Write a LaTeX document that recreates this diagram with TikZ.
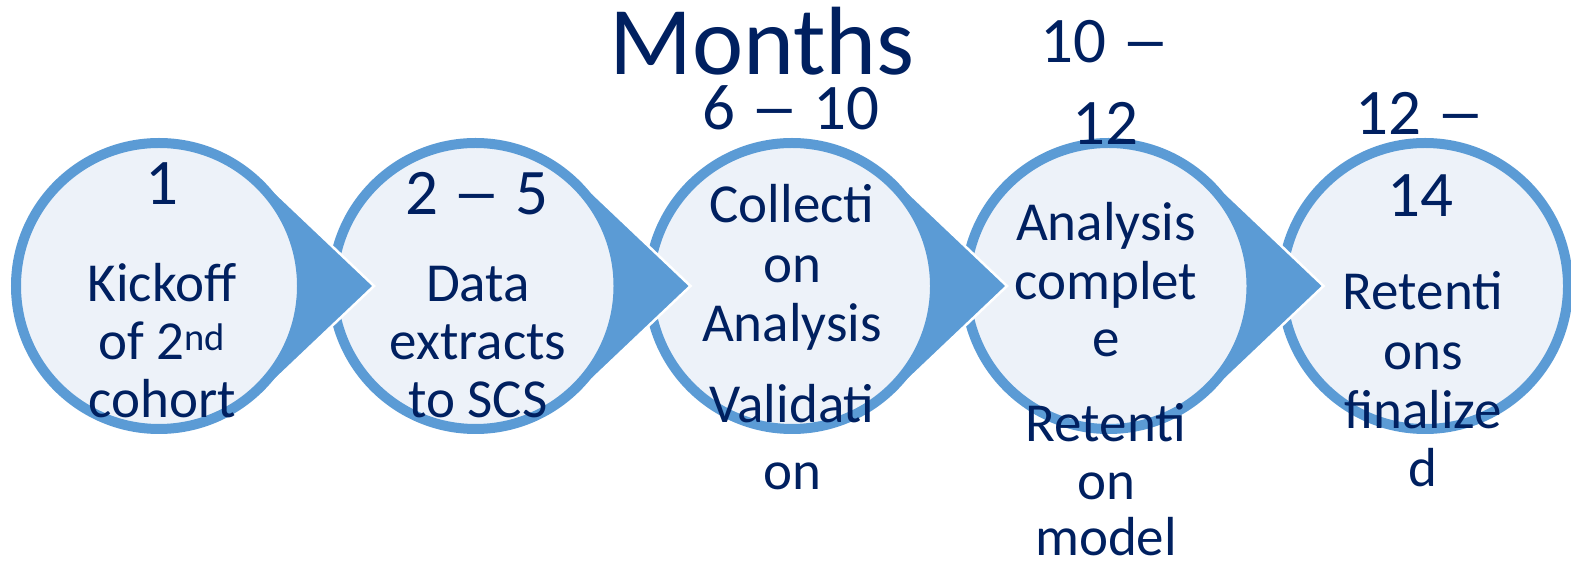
\documentclass[tikz,border=0pt]{standalone}
\usepackage{fontspec}
\setmainfont{Carlito}
\usetikzlibrary{calc}
\definecolor{navy}{HTML}{002060}
\definecolor{accent}{HTML}{5B9BD5}
\definecolor{lightfill}{HTML}{EDF2F9}
\newcommand{\wdash}{\scalebox{1.5}[1]{–}}
\begin{document}
\begin{tikzpicture}[x=1pt,y=1pt,
 body/.style={anchor=base, text=navy, font=\fontsize{55}{59}\selectfont, inner sep=0pt},
 head/.style={anchor=base, text=navy, font=\fontsize{65}{69}\selectfont, inner sep=0pt},
 title/.style={anchor=base, text=navy, font=\fontsize{97}{100}\selectfont, inner sep=0pt},
 arrowpart/.style={fill=accent, draw=white, line width=2.5pt},
 disc/.style={circle, fill=lightfill, draw=accent, line width=10pt, minimum size=286pt, inner sep=0pt}]
\useasboundingbox (0,0) rectangle (1571,562);
% shapes, drawn right to left so each arrow lies over the next circle
\coordinate (c5) at (1425,276);
\node[disc] (n5) at (c5) {};
\foreach \i/\cx in {4/1108.5, 3/792, 2/475.5, 1/159} {
  \coordinate (c\i) at (\cx,276);
  \coordinate (tip\i) at (\cx+215,276);
  \fill[arrowpart] ($(c\i)+(46.5:148)$) -- (tip\i) -- ($(c\i)+(-46.5:148)$)
     arc[start angle=-46.5, end angle=-313.5, radius=148] -- cycle;
  \node[disc] (n\i) at (c\i) {};
}
% title
\node[title] (months) at (762,487) {Months};
% circle 1
\node[head] (h1) at (162,357) {1};
\node[body] (t1a) at (162,260) {Kickoff};
\node[body] (t1b) at (162,202) {of 2\textsuperscript{nd}};
\node[body] (t1c) at (162,144) {cohort};
% circle 2
\node[head] (h2) at (477,347) {2 \wdash{} 5};
\node[body] (t2a) at (478,260) {Data};
\node[body] (t2b) at (478,202) {extracts};
\node[body] (t2c) at (478,144) {to SCS};
% circle 3
\node[head] (h3) at (791,432) {6 \wdash{} 10};
\node[body] (t3a) at (792,339) {Collecti};
\node[body] (t3b) at (792,279) {on};
\node[body] (t3c) at (792,220) {Analysis};
\node[body] (t3d) at (792,139) {Validati};
\node[body] (t3e) at (792,72) {on};
% circle 4
\node[head] (h4a) at (1105,499) {10 \wdash};
\node[head] (h4b) at (1105,417) {12};
\node[body] (t4a) at (1106,321) {Analysis};
\node[body] (t4b) at (1106,262) {complet};
\node[body] (t4c) at (1106,205) {e};
\node[body] (t4d) at (1106,120) {Retenti};
\node[body] (t4e) at (1106,62) {on};
\node[body] (t4f) at (1106,6) {model};
% circle 5
\node[head] (h5a) at (1420,427) {12 \wdash};
\node[head] (h5b) at (1420,345) {14};
\node[body] (t5a) at (1423,252) {Retenti};
\node[body] (t5b) at (1423,192) {ons};
\node[body] (t5c) at (1423,133) {finalize};
\node[body] (t5d) at (1423,75) {d};
\end{tikzpicture}
\end{document}
